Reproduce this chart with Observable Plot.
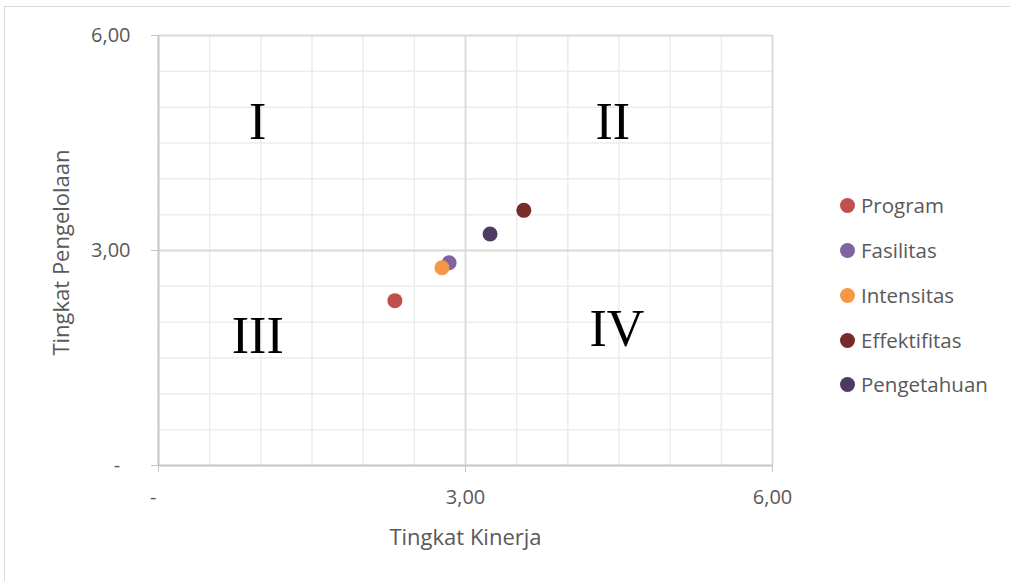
<!DOCTYPE html>
<html>
<head>
<meta charset="utf-8">
<script src="https://cdn.jsdelivr.net/npm/d3@7"></script>
<script src="https://cdn.jsdelivr.net/npm/@observablehq/plot@0.6"></script>
<style>
  html, body { margin: 0; padding: 0; background: #fff; overflow: hidden; }
  #wrap { position: relative; width: 1010px; height: 581px; }
  #frame { position: absolute; left: 4px; top: 6px; width: 1020px; height: 600px; border: 1.5px solid #d9d9d9; box-sizing: border-box; }
  #chart { position: absolute; left: 0; top: 0; }
  #legend { position: absolute; left: 840px; top: 0; font-family: "Open Sans", sans-serif; font-size: 20.5px; color: #595959; }
  .item { position: absolute; left: 0; white-space: nowrap; display: flex; align-items: center; height: 30px; }
  .sw { width: 15px; height: 15px; border-radius: 50%; margin-right: 6px; }
</style>
</head>
<body>
<div id="wrap">
  <div id="frame"></div>
  <div id="chart"></div>
  <div id="legend"></div>
</div>
<script>
// Data
const series = ["Program", "Fasilitas", "Intensitas", "Effektifitas", "Pengetahuan"];
const kinerja = [2.31, 2.84, 2.77, 3.57, 3.24];        // x: Tingkat Kinerja
const pengelolaan = [2.30, 2.83, 2.76, 3.56, 3.23];    // y: Tingkat Pengelolaan
const colors = ["#c0504d", "#8064a2", "#f79646", "#772c2a", "#4d3b62"];

const quadrants = ["I", "II", "III", "IV"];
const quadX = [0.97, 4.44, 0.97, 4.48];
const quadY = [4.79, 4.79, 1.80, 1.90];

const tickValues = [0, 3, 6];
const tickLabels = ["-\u00a0\u00a0", "3,00", "6,00"];
const minorGrid = d3.range(0.5, 6, 0.5).filter(v => v !== 3);
const majorGrid = [3, 6];

const xTitle = "Tingkat Kinerja";
const yTitle = "Tingkat Pengelolaan";

const points = series.map((s, i) => ({ name: s, x: kinerja[i], y: pengelolaan[i] }));
const quads = quadrants.map((q, i) => ({ label: q, x: quadX[i], y: quadY[i] }));
const fmt = v => tickLabels[tickValues.indexOf(v)];

const font = '"Open Sans", sans-serif';

const chart = Plot.plot({
  width: 1010,
  height: 581,
  marginLeft: 158,
  marginRight: 238,
  marginTop: 35,
  marginBottom: 116,
  style: { fontFamily: font, background: "transparent", overflow: "visible" },
  x: { domain: [0, 6] },
  y: { domain: [0, 6] },
  color: { domain: series, range: colors },
  marks: [
    Plot.ruleX(minorGrid, { stroke: "#ececec", strokeWidth: 1.5 }),
    Plot.ruleY(minorGrid, { stroke: "#ececec", strokeWidth: 1.5 }),
    Plot.ruleX(majorGrid, { stroke: "#d9d9d9", strokeWidth: 1.8 }),
    Plot.ruleY(majorGrid, { stroke: "#d9d9d9", strokeWidth: 1.8 }),
    Plot.ruleX([0], { stroke: "#c6c6c6", strokeWidth: 2 }),
    Plot.ruleY([0], { stroke: "#c6c6c6", strokeWidth: 2 }),
    Plot.axisX({ ticks: tickValues, tickFormat: fmt, tickSize: 7, tickPadding: 17, stroke: "#c6c6c6", fill: "#595959", fontSize: 20, fontFamily: font, label: null }),
    Plot.axisY({ ticks: tickValues, tickFormat: fmt, tickSize: 7, tickPadding: 21, stroke: "#c6c6c6", fill: "#595959", fontSize: 20, fontFamily: font, label: null }),
    Plot.text(quads, { x: "x", y: "y", text: "label", fontFamily: '"Liberation Serif", serif', fontSize: 52, fill: "#000" }),
    Plot.dot(points, { x: "x", y: "y", fill: "name", r: 7.5 }),
    Plot.text([xTitle], { text: d => d, frameAnchor: "bottom", lineAnchor: "middle", textAnchor: "middle", dy: 72, fontSize: 22, fill: "#595959", fontFamily: font }),
    Plot.text([yTitle], { text: d => d, frameAnchor: "left", lineAnchor: "middle", textAnchor: "middle", rotate: -90, dx: -97, dy: 2, fontSize: 22, fill: "#595959", fontFamily: font })
  ]
});
document.getElementById("chart").appendChild(chart);

// Legend
const legendY = [205, 250, 295, 340, 384];
const legend = document.getElementById("legend");
series.forEach((s, i) => {
  const it = document.createElement("div");
  it.className = "item";
  it.style.top = (legendY[i] - 15) + "px";
  const sw = document.createElement("div");
  sw.className = "sw";
  sw.style.background = colors[i];
  const tx = document.createElement("span");
  tx.textContent = s;
  it.appendChild(sw);
  it.appendChild(tx);
  legend.appendChild(it);
});
</script>
</body>
</html>
